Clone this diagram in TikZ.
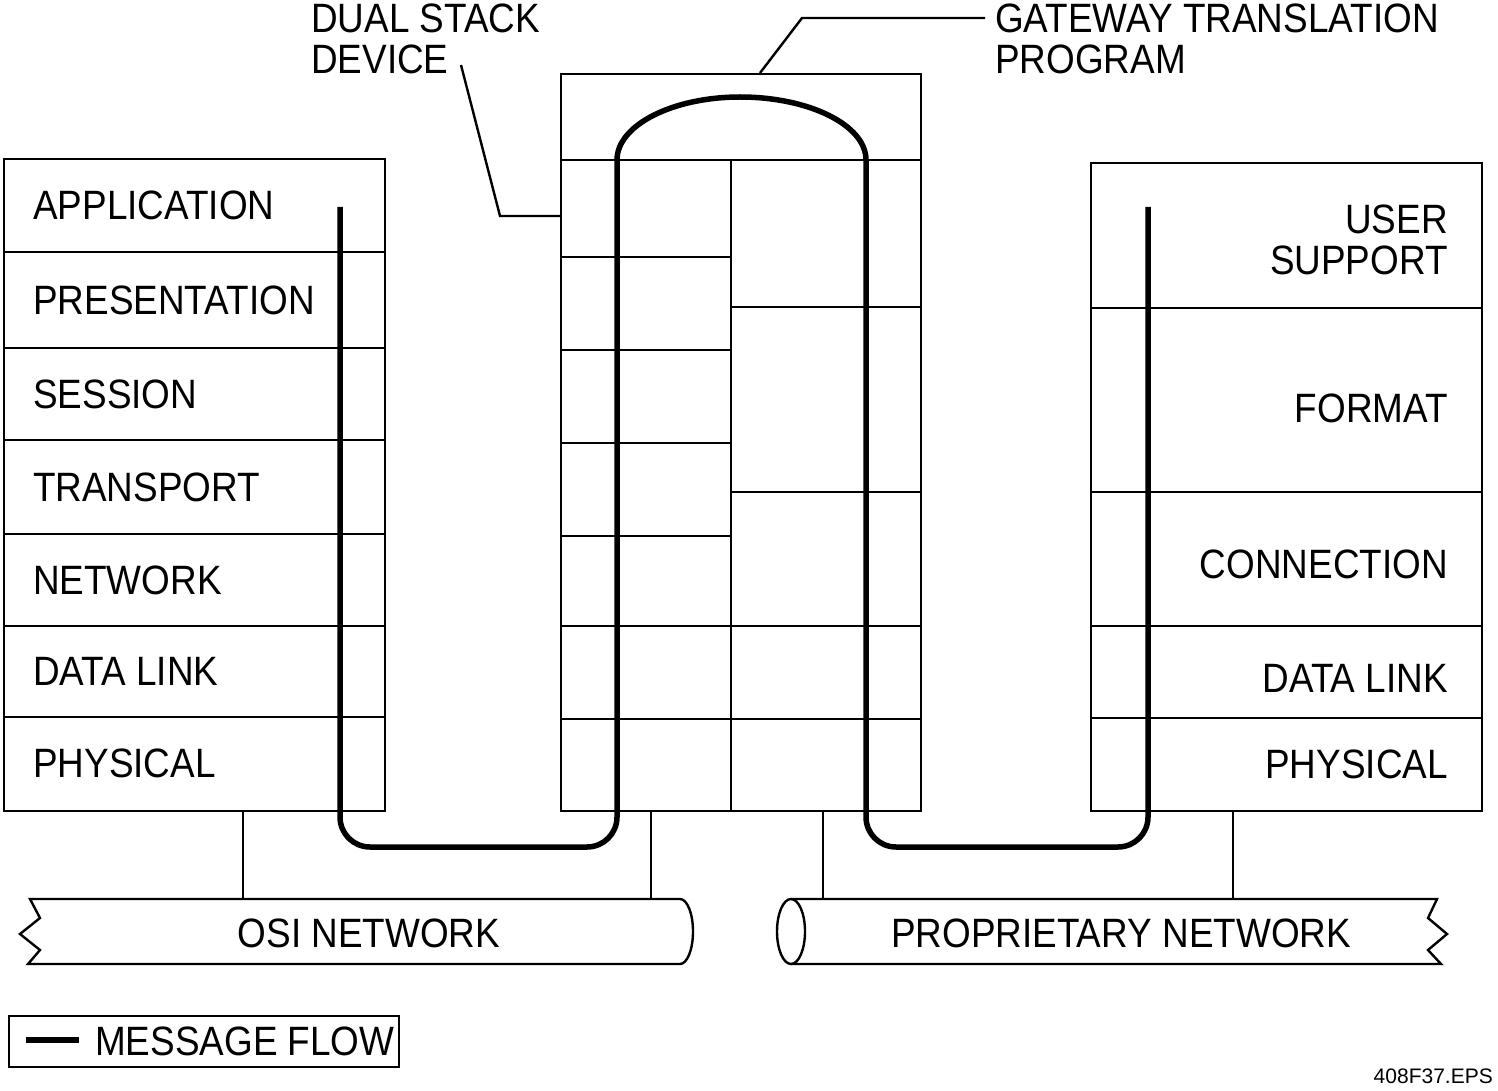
\documentclass[tikz,border=0pt]{standalone}
\usepackage{fontspec}
\setmainfont{Liberation Sans}
\newfontfamily\mynarrowfam[FakeStretch=0.9]{Liberation Sans}
\newcommand\mylabfont{\mynarrowfam\fontsize{41}{40.5}\selectfont}
\newcommand\mysmallfont{\fontsize{21}{21}\selectfont}
\begin{document}
\begin{tikzpicture}[x=1pt,y=-1pt,
  thinln/.style={line width=2.4pt},
  flow/.style={line width=5.5pt},
  stackbox/.style={draw, line width=2.4pt, inner sep=0pt, anchor=north west},
  lbl/.style={font=\mylabfont, inner sep=0pt},
  lbll/.style={lbl, anchor=west},
  lblr/.style={lbl, anchor=east}]
\useasboundingbox (0,0) rectangle (1498,1091);

% ---------- left OSI stack ----------
\node[stackbox, minimum width=381pt, minimum height=652pt] (lstack) at (3,158) {};
\foreach \y in {252,348,440,534,626,717}
  \draw[thinln] (3,\y) -- (384,\y);
\node[lbll] (lapp)  at (33,205)   {APPLICATION};
\node[lbll] (lpres) at (33,300)   {PRESENTATION};
\node[lbll] (lsess) at (33,394)   {SESSION};
\node[lbll] (ltran) at (33,487)   {TRANSPORT};
\node[lbll] (lnet)  at (33,580)   {NETWORK};
\node[lbll] (ldl)   at (33,671.5) {DATA LINK};
\node[lbll] (lphy)  at (33,763.5) {PHYSICAL};

% ---------- middle dual stack ----------
\node[stackbox, minimum width=360pt, minimum height=737pt] (mstack) at (560,73) {};
\draw[thinln] (560,160) -- (920,160);
\draw[thinln] (731,160) -- (731,810);
\foreach \y in {257,350,443,536}
  \draw[thinln] (560,\y) -- (731,\y);
\foreach \y in {307,492}
  \draw[thinln] (731,\y) -- (920,\y);
\foreach \y in {626,719}
  \draw[thinln] (560,\y) -- (920,\y);

% ---------- right proprietary stack ----------
\node[stackbox, minimum width=391pt, minimum height=648pt] (rstack) at (1090,162) {};
\foreach \y in {308,492,626,718}
  \draw[thinln] (1090,\y) -- (1481,\y);
\node[lbl, anchor=north east, align=right] (rus) at (1448,205) {USER\\SUPPORT};
\node[lblr] (rfmt)  at (1448,408)   {FORMAT};
\node[lblr] (rconn) at (1448,564)   {CONNECTION};
\node[lblr] (rdl)   at (1448,678)   {DATA LINK};
\node[lblr] (rphy)  at (1448,764)   {PHYSICAL};

% ---------- top labels and leaders ----------
\node[lbl, anchor=north west, align=left] (dual) at (311,4) {DUAL STACK\\DEVICE};
\node[lbl, anchor=north west, align=left] (gtp) at (995,4) {GATEWAY TRANSLATION\\PROGRAM};
\coordinate (dualtip) at (461,65);
\coordinate (dualend) at (560,216);
\draw[thinln] (dualtip) -- (500,216) -- (dualend);
\coordinate (gtptip) at (985,18);
\coordinate (gtpend) at (760,73);
\draw[thinln] (gtpend) -- (802,18) -- (gtptip);

% ---------- networks ----------
\draw[thinln] (680,899) -- (30,899) -- (40,918) -- (20,934) -- (40,950) -- (28,964) -- (680,964)
  arc[start angle=-90, end angle=90, x radius=13pt, y radius=32.5pt] -- cycle;
\node[lbl] (osi) at (369,933) {OSI NETWORK};
\draw[thinln] (791,899) -- (1437,899) -- (1428,918) -- (1447,934) -- (1428,950) -- (1441,964) -- (791,964);
\draw[thinln] (791,931.5) ellipse[x radius=14pt, y radius=32.5pt];
\node[lbl] (prop) at (1121,933) {PROPRIETARY NETWORK};
\coordinate (ositopa) at (243,899);
\coordinate (ositopb) at (651,899);
\coordinate (proptopa) at (823,899);
\coordinate (proptopb) at (1233,899);
\draw[thinln] (lstack.south -| ositopa) -- (ositopa);
\draw[thinln] (mstack.south -| ositopb) -- (ositopb);
\draw[thinln] (mstack.south -| proptopa) -- (proptopa);
\draw[thinln] (rstack.south -| proptopb) -- (proptopb);

% ---------- message flow ----------
\draw[flow] (340,207) [rounded corners=30pt] -- (340,847) -- (617,847) -- (617,300)
  [sharp corners] -- (617,160)
  .. controls (617,125) and (673,97) .. (740,97)
  .. controls (809,97) and (866,125) .. (866,160)
  -- (866,300) [rounded corners=30pt] -- (866,847) -- (1148,847) -- (1148,207);

% ---------- legend ----------
\node[draw, line width=2pt, anchor=north west, minimum width=390pt, minimum height=51pt, inner sep=0pt] (legend) at (8,1015) {};
\draw[line width=5.5pt] (26,1040) -- (79,1040);
\node[lbll] (legtxt) at (95,1041) {MESSAGE FLOW};

\node[font=\mysmallfont, inner sep=0pt, anchor=base east] (fileid) at (1493,1083) {408F37.EPS};
\end{tikzpicture}
\end{document}
